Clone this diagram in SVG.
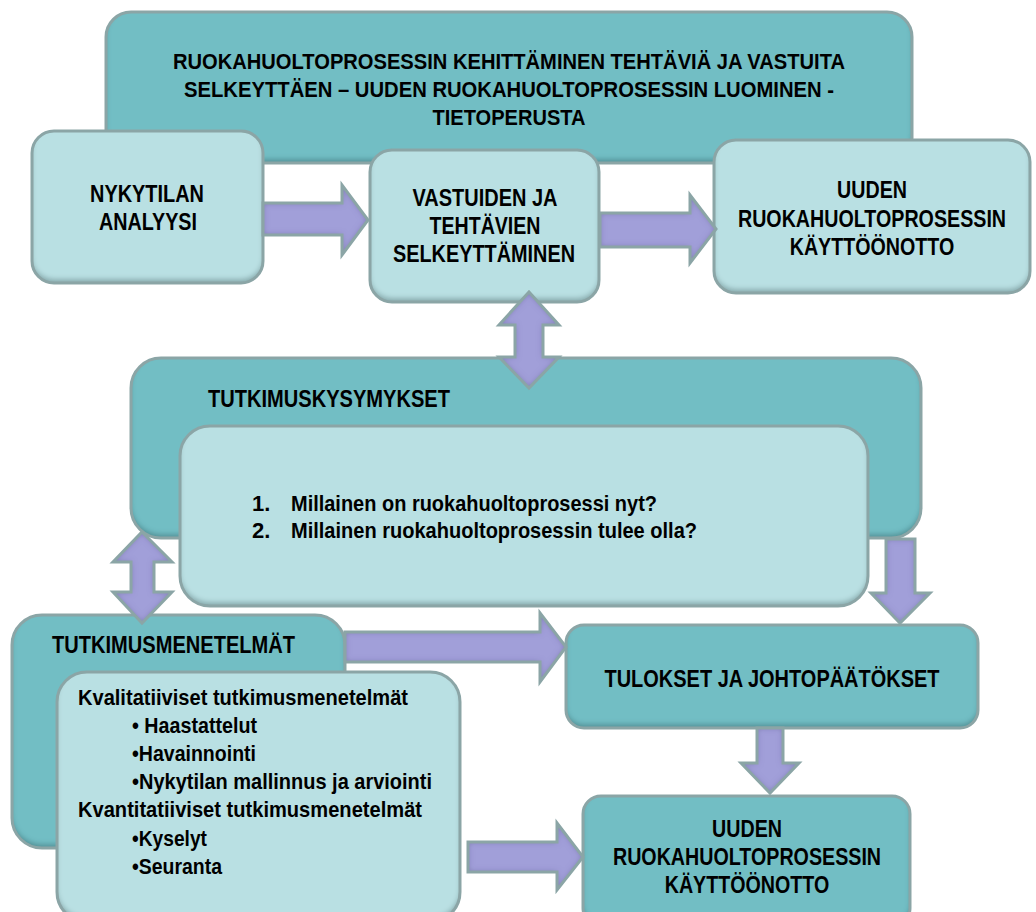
<svg xmlns="http://www.w3.org/2000/svg" xmlns:xlink="http://www.w3.org/1999/xlink" width="1036" height="912" viewBox="0 0 1036 912">
  <style>
    .dk { fill: #72bec4; filter: url(#boxShade); }
    .lt { fill: #b9e0e3; filter: url(#boxShade); }
    .edge { fill: none; stroke: #8ba5a6; stroke-width: 3; }
    .af { fill: #a19fd9; stroke: none; filter: url(#arrowShade); }
    .al { fill: none; stroke: #8ba5a6; stroke-width: 3; stroke-linejoin: miter; }
    text { font-family: "Liberation Sans", Arial, sans-serif; font-weight: bold; fill: #000; }
    .h { font-size: 22px; }
    .n { font-size: 24px; }
    .s { font-size: 22px; }
    .c { text-anchor: middle; }
  </style>
  <defs>
    <!-- darker band along the lower inside edge of a box -->
    <filter id="boxShade" x="-5%" y="-5%" width="110%" height="110%">
      <feGaussianBlur in="SourceAlpha" stdDeviation="2.5" result="blur"/>
      <feOffset in="blur" dy="-4" result="off"/>
      <feComposite in="SourceAlpha" in2="off" operator="out" result="rim"/>
      <feFlood flood-color="#1e4e52" flood-opacity="0.5"/>
      <feComposite in2="rim" operator="in" result="shade"/>
      <feMerge><feMergeNode in="SourceGraphic"/><feMergeNode in="shade"/></feMerge>
    </filter>
    <!-- soft inner glow round an arrow -->
    <filter id="arrowShade" x="-10%" y="-10%" width="120%" height="120%">
      <feGaussianBlur in="SourceAlpha" stdDeviation="3" result="blur"/>
      <feComposite in="SourceAlpha" in2="blur" operator="out" result="rim"/>
      <feFlood flood-color="#4a4880" flood-opacity="0.6"/>
      <feComposite in2="rim" operator="in" result="shade"/>
      <feMerge><feMergeNode in="SourceGraphic"/><feMergeNode in="shade"/></feMerge>
    </filter>
    <path id="pA1" d="M263,203 H342 V185 L368,220 L342,255 V235 H263 Z"/>
    <path id="pA2" d="M600,213 H690 V195 L716,229 L690,263 V247 H600 Z"/>
    <path id="pA3" d="M529,292 L559,325 H543 V357 H559 L529,388 L499,357 H515 V325 H499 Z"/>
    <path id="pA4" d="M142,532 L172,562 H154 V592 H172 L142,623 L113,592 H131 V562 H113 Z"/>
    <path id="pA5" d="M886,539 H915 V593 H930 L900,623 L871,593 H886 Z"/>
    <path id="pA6" d="M345,632 H540 V613 L566,647 L540,682 V662 H345 Z"/>
    <path id="pA7" d="M757,728 H783 V763 H799 L770,793 L741,763 H757 Z"/>
    <path id="pA8" d="M468,842 H557 V823 L583,857 L557,890 V872 H468 Z"/>
  </defs>

  <rect width="1036" height="912" fill="#ffffff"/>

  <g id="title">
    <rect class="dk" x="106" y="12" width="806" height="151" rx="25"/>
    <rect class="edge" x="106" y="12" width="806" height="151" rx="25"/>
    <text class="h c" x="509" y="69" textLength="672" lengthAdjust="spacingAndGlyphs">RUOKAHUOLTOPROSESSIN KEHITTÄMINEN TEHTÄVIÄ JA VASTUITA</text>
    <text class="h c" x="509" y="97" textLength="650" lengthAdjust="spacingAndGlyphs">SELKEYTTÄEN – UUDEN RUOKAHUOLTOPROSESSIN LUOMINEN -</text>
    <text class="h c" x="509" y="125" textLength="153" lengthAdjust="spacingAndGlyphs">TIETOPERUSTA</text>
  </g>

  <g id="nykytila">
    <rect class="lt" x="32" y="131" width="231" height="152" rx="22"/>
    <rect class="edge" x="32" y="131" width="231" height="152" rx="22"/>
    <text class="n c" x="147" y="202" textLength="114" lengthAdjust="spacingAndGlyphs">NYKYTILAN</text>
    <text class="n c" x="148" y="230" textLength="98" lengthAdjust="spacingAndGlyphs">ANALYYSI</text>
  </g>

  <g id="vastuut">
    <rect class="lt" x="370" y="150" width="229" height="152" rx="22"/>
    <rect class="edge" x="370" y="150" width="229" height="152" rx="22"/>
    <text class="n c" x="485" y="206" textLength="145" lengthAdjust="spacingAndGlyphs">VASTUIDEN JA</text>
    <text class="n c" x="485" y="234" textLength="111" lengthAdjust="spacingAndGlyphs">TEHTÄVIEN</text>
    <text class="n c" x="484" y="262" textLength="182" lengthAdjust="spacingAndGlyphs">SELKEYTTÄMINEN</text>
  </g>

  <g id="kayttoonotto-top">
    <rect class="lt" x="714" y="140" width="316" height="153" rx="22"/>
    <rect class="edge" x="714" y="140" width="316" height="153" rx="22"/>
    <!-- narrowed lettering for the long word -->
    <g transform="translate(872,0) scale(0.82,1)">
      <text class="n c" x="0" y="198">UUDEN</text>
      <text class="n c" x="0" y="227">RUOKAHUOLTOPROSESSIN</text>
      <text class="n c" x="0" y="255">KÄYTTÖÖNOTTO</text>
    </g>
  </g>

  <g id="kysymykset">
    <rect class="dk" x="131" y="358" width="790" height="180" rx="30"/>
    <rect class="edge" x="131" y="358" width="790" height="180" rx="30"/>
    <text class="n" x="208" y="407" textLength="242" lengthAdjust="spacingAndGlyphs">TUTKIMUSKYSYMYKSET</text>
    <rect class="lt" x="180" y="426" width="688" height="180" rx="30"/>
    <rect class="edge" x="180" y="426" width="688" height="180" rx="30"/>
    <text class="s" x="252" y="511">1.</text>
    <text class="s" x="291" y="511" textLength="366" lengthAdjust="spacingAndGlyphs">Millainen on ruokahuoltoprosessi nyt?</text>
    <text class="s" x="252" y="538">2.</text>
    <text class="s" x="291" y="538" textLength="406" lengthAdjust="spacingAndGlyphs">Millainen ruokahuoltoprosessin tulee olla?</text>
  </g>

  <g id="menetelmat">
    <rect class="dk" x="12" y="615" width="333" height="233" rx="30"/>
    <rect class="edge" x="12" y="615" width="333" height="233" rx="30"/>
    <text class="n" x="52" y="653" textLength="243" lengthAdjust="spacingAndGlyphs">TUTKIMUSMENETELMÄT</text>
    <rect class="lt" x="57" y="672" width="403" height="250" rx="30"/>
    <rect class="edge" x="57" y="672" width="403" height="250" rx="30"/>
    <text class="s" x="78" y="705" textLength="330" lengthAdjust="spacingAndGlyphs">Kvalitatiiviset tutkimusmenetelmät</text>
    <text class="s" x="132" y="733" textLength="125" lengthAdjust="spacingAndGlyphs">• Haastattelut</text>
    <text class="s" x="132" y="761" textLength="124" lengthAdjust="spacingAndGlyphs">•Havainnointi</text>
    <text class="s" x="132" y="789" textLength="300" lengthAdjust="spacingAndGlyphs">•Nykytilan mallinnus ja arviointi</text>
    <text class="s" x="78" y="817" textLength="344" lengthAdjust="spacingAndGlyphs">Kvantitatiiviset tutkimusmenetelmät</text>
    <text class="s" x="132" y="846" textLength="75" lengthAdjust="spacingAndGlyphs">•Kyselyt</text>
    <text class="s" x="132" y="874" textLength="90" lengthAdjust="spacingAndGlyphs">•Seuranta</text>
  </g>

  <g id="tulokset">
    <rect class="dk" x="566" y="625" width="412" height="103" rx="18"/>
    <rect class="edge" x="566" y="625" width="412" height="103" rx="18"/>
    <text class="n c" x="772" y="687" textLength="335" lengthAdjust="spacingAndGlyphs">TULOKSET JA JOHTOPÄÄTÖKSET</text>
  </g>

  <g id="kayttoonotto-bottom">
    <rect class="dk" x="583" y="796" width="327" height="130" rx="18"/>
    <rect class="edge" x="583" y="796" width="327" height="130" rx="18"/>
    <g transform="translate(747,0) scale(0.82,1)">
      <text class="n c" x="0" y="837">UUDEN</text>
      <text class="n c" x="0" y="865">RUOKAHUOLTOPROSESSIN</text>
      <text class="n c" x="0" y="893">KÄYTTÖÖNOTTO</text>
    </g>
  </g>

  <g id="connectors">
    <use xlink:href="#pA1" class="af"/><use xlink:href="#pA1" class="al"/>
    <use xlink:href="#pA2" class="af"/><use xlink:href="#pA2" class="al"/>
    <use xlink:href="#pA3" class="af"/><use xlink:href="#pA3" class="al"/>
    <use xlink:href="#pA4" class="af"/><use xlink:href="#pA4" class="al"/>
    <use xlink:href="#pA5" class="af"/><use xlink:href="#pA5" class="al"/>
    <use xlink:href="#pA6" class="af"/><use xlink:href="#pA6" class="al"/>
    <use xlink:href="#pA7" class="af"/><use xlink:href="#pA7" class="al"/>
    <use xlink:href="#pA8" class="af"/><use xlink:href="#pA8" class="al"/>
  </g>
</svg>
